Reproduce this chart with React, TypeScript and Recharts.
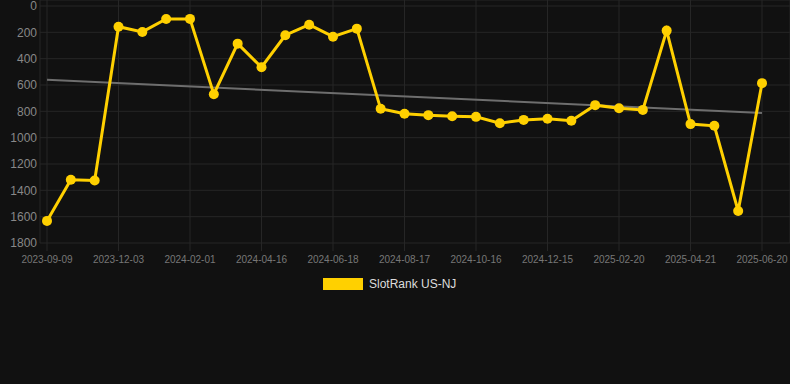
import React from 'react';
import { LineChart, Line, XAxis, YAxis, CartesianGrid } from 'recharts';

const dates = [
  '2023-09-09', '2023-10-07', '2023-11-04', '2023-12-03', '2023-12-23', '2024-01-12',
  '2024-02-01', '2024-02-26', '2024-03-22', '2024-04-16', '2024-05-07', '2024-05-28',
  '2024-06-18', '2024-07-08', '2024-07-28', '2024-08-17', '2024-09-06', '2024-09-26',
  '2024-10-16', '2024-11-05', '2024-11-25', '2024-12-15', '2025-01-06', '2025-01-28',
  '2025-02-20', '2025-03-12', '2025-04-01', '2025-04-21', '2025-05-11', '2025-05-31',
  '2025-06-20',
];

// SlotRank US-NJ (lower is better, axis reversed)
const rank = [
  1632, 1320, 1325, 157, 197, 99, 98, 670, 286, 465, 222, 142,
  233, 172, 781, 819, 829, 837, 842, 890, 865, 857, 872, 753,
  776, 789, 187, 897, 910, 1557, 586,
];

// trend line end values (first / last date)
const trendEnds = [560, 813];

const yTicks = [0, 200, 400, 600, 800, 1000, 1200, 1400, 1600, 1800];

const data = dates.map((d, i) => ({
  date: d,
  rank: rank[i],
  trend: i === 0 ? trendEnds[0] : i === dates.length - 1 ? trendEnds[1] : null,
}));

const GOLD = '#ffd000';
const FONT = '"Liberation Sans", Arial, Helvetica, sans-serif';

export default function App() {
  return (
    <div style={{ position: 'fixed', left: 0, top: 0, width: 790, height: 384, background: '#111111', fontFamily: FONT }}>
      <LineChart width={790} height={384} data={data} margin={{ top: 0, right: 0, left: 0, bottom: 111 }}>
        <CartesianGrid stroke="#262626" strokeWidth={1} />
        <XAxis
          dataKey="date"
          interval={2}
          padding={{ left: 7, right: 28 }}
          axisLine={false}
          tickLine={{ stroke: '#262626' }}
          tickSize={8}
          tickMargin={5}
          height={30}
          tick={{ fill: '#777', fontSize: 10, fontFamily: FONT }}
        />
        <YAxis
          reversed
          domain={[0, 1800]}
          ticks={yTicks}
          interval={0}
          padding={{ top: 6, bottom: 0 }}
          width={40}
          axisLine={false}
          tickLine={false}
          tickSize={0}
          tickMargin={3}
          tick={{ fill: '#888', fontSize: 12, fontFamily: FONT }}
        />
        <Line
          dataKey="trend"
          connectNulls
          stroke="#6e6e6e"
          strokeWidth={2}
          dot={false}
          activeDot={false}
          isAnimationActive={false}
        />
        <Line
          dataKey="rank"
          stroke={GOLD}
          strokeWidth={3}
          dot={{ r: 5, fill: GOLD, stroke: GOLD, strokeWidth: 0 }}
          activeDot={false}
          isAnimationActive={false}
        />
      </LineChart>
      <div style={{ position: 'absolute', left: 323, top: 278, display: 'flex', alignItems: 'center', height: 12 }}>
        <div style={{ width: 40, height: 12, background: GOLD }} />
        <span style={{ marginLeft: 6, fontSize: 12, color: '#dddddd', lineHeight: '12px' }}>SlotRank US-NJ</span>
      </div>
    </div>
  );
}
